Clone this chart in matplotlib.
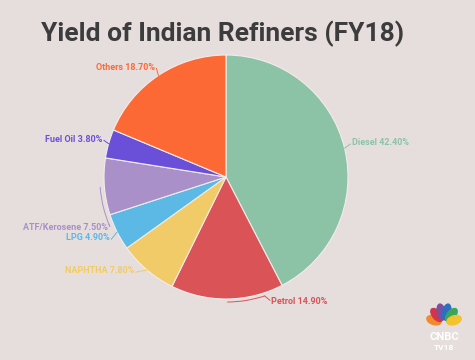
import numpy as np
import matplotlib.pyplot as plt
from matplotlib.patches import Arc, Ellipse

products = ["Diesel", "Petrol", "NAPHTHA", "LPG", "ATF/Kerosene", "Fuel Oil", "Others"]
shares = [42.4, 14.9, 7.8, 4.9, 7.5, 3.8, 18.7]
colors = ["#8cc3a6", "#da5356", "#f0cb68", "#5cb8e5", "#a990c8", "#6a4fd8", "#fd6935"]

# label text anchors (data units, radius 1 = pie edge)
label_pos = [(1.03, 0.28), (0.37, -1.02), (-0.75, -0.77), (-0.95, -0.50),
             (-0.97, -0.41), (-1.01, 0.31), (-0.58, 0.90)]

bg = "#e6dedd"
fig = plt.figure(figsize=(4.75, 3.6), dpi=100, facecolor=bg)
plt.rcParams['font.family'] = ['Roboto', 'DejaVu Sans']

fig.text(0.468, 0.905, "Yield of Indian Refiners (FY18)", ha="center", va="center",
         fontsize=19, fontweight="bold", color="#3c3c3c")

ax = fig.add_axes([104 / 475, 61 / 360, 244 / 475, 244 / 360])
ax.set_facecolor(bg)
wedges, _ = ax.pie(shares, colors=colors, startangle=90, counterclock=False,
                   radius=1, wedgeprops=dict(edgecolor="#f2ecec", linewidth=0.8))
ax.set_xlim(-1, 1)
ax.set_ylim(-1, 1)
ax.axis("off")

for w, name, val, col, (tx, ty) in zip(wedges, products, shares, colors, label_pos):
    mid_deg = ((w.theta1 + w.theta2) / 2 + 180) % 360 - 180
    mid = np.deg2rad(mid_deg)
    px, py = np.cos(mid), np.sin(mid)
    ha = "left" if tx > 0 else "right"
    if name == "Petrol":
        # bracket along the rim, running right of the slice middle
        ax.add_patch(Arc((0, 0), 2.05, 2.05, theta1=mid_deg, theta2=-72,
                         color=col, lw=0.7, clip_on=False))
        e = np.deg2rad(-72)
        ax.plot([np.cos(e) * 1.025, tx - 0.01], [np.sin(e) * 1.025, ty + 0.01],
                color=col, lw=0.7, clip_on=False)
    elif name == "ATF/Kerosene":
        # bracket along the rim, running down from the slice middle
        ax.add_patch(Arc((0, 0), 2.07, 2.07, theta1=mid_deg, theta2=-157,
                         color=col, lw=0.7, clip_on=False))
        e = np.deg2rad(-157)
        ax.plot([np.cos(e) * 1.035, tx + 0.01], [np.sin(e) * 1.035, ty + 0.02],
                color=col, lw=0.7, clip_on=False)
    else:
        ax.plot([px, tx + (-0.01 if tx > 0 else 0.01)], [py, ty - 0.01],
                color=col, lw=0.7, clip_on=False)
    ax.text(tx, ty, f"{name} {val:.2f}%", ha=ha, va="center", fontsize=6.5,
            fontweight="bold", color=col, clip_on=False)

# channel logo
lax = fig.add_axes([418 / 475, 2 / 360, 52 / 475, 58 / 360])
lax.set_xlim(0, 1)
lax.set_ylim(0, 1)
lax.axis("off")
feathers = ["#f08a2a", "#d2344e", "#7b4fa0", "#2c6fc0", "#3aa65a", "#f2c32e"]
for i, c in enumerate(feathers):
    a = np.deg2rad(165 - i * 30)
    lax.add_patch(Ellipse((0.5 + 0.2 * np.cos(a), 0.6 + 0.2 * np.sin(a)), 0.15, 0.28,
                          angle=np.rad2deg(a) - 90, color=c))
lax.text(0.5, 0.36, "CNBC", ha="center", va="center", fontsize=8, fontweight="bold", color="white")
lax.text(0.5, 0.18, "TV18", ha="center", va="center", fontsize=6, fontweight="bold", color="white")

fig.savefig("out.png", dpi=100, facecolor=bg)
